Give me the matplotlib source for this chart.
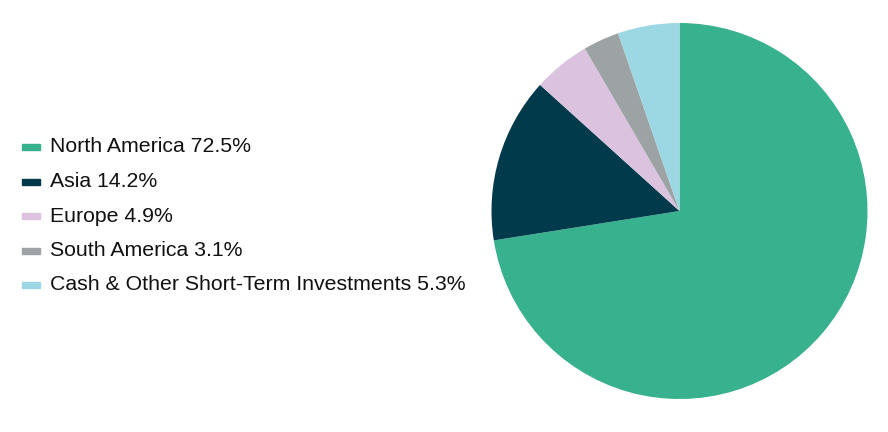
import matplotlib.pyplot as plt
from matplotlib.patches import Rectangle

# region breakdown
labels = ["North America", "Asia", "Europe", "South America",
          "Cash & Other Short-Term Investments"]
values = [72.5, 14.2, 4.9, 3.1, 5.3]
colors = ["#38B28E", "#013A4B", "#DBC3E0", "#9DA3A5", "#9CD8E3"]

plt.rcParams['font.family'] = ['Liberation Sans', 'DejaVu Sans']

W, H = 888, 432
fig = plt.figure(figsize=(W / 100, H / 100), dpi=100)

# pie area
ax = fig.add_axes([491 / W, (H - 399) / H, 377 / W, 376 / H])
ax.pie(values, colors=colors, startangle=90, counterclock=False,
       wedgeprops=dict(linewidth=0))
ax.set_xlim(-1, 1)
ax.set_ylim(-1, 1)
ax.set_aspect('equal')

# legend drawn by hand
y0 = 147
step = 34.5
for i, (lab, val, col) in enumerate(zip(labels, values, colors)):
    y = y0 + i * step
    fig.patches.append(Rectangle((22 / W, (H - y - 3) / H), 18 / W, 6 / H,
                                 transform=fig.transFigure, color=col))
    fig.text(50 / W, (H - y) / H, f"{lab} {val}%", fontsize=15.3,
             va='center', ha='left', color='#111111')

fig.savefig("out.png", dpi=100)
